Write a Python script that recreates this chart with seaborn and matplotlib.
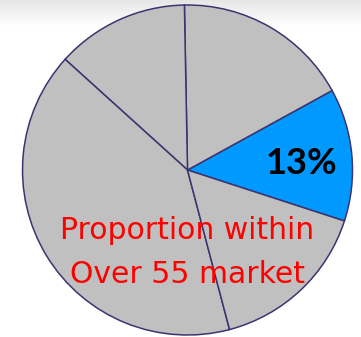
import numpy as np
import matplotlib
matplotlib.use("Agg")
import matplotlib.pyplot as plt
import seaborn as sns

sns.set_style("white")
plt.rcParams['font.family'] = ['Lato', 'DejaVu Sans']

# Data (percent shares, counter-clockwise from the blue slice)
segments = ["Over 55", "Seg B", "Seg C", "Seg D", "Seg E"]
shares = [13, 17.3, 13, 40.8, 15.9]
colors = ["#0099FF", "#C0C0C0", "#C0C0C0", "#C0C0C0", "#C0C0C0"]
highlight_label = "13%"
caption_lines = ["Proportion within", "Over 55 market"]

fig = plt.figure(figsize=(3.61, 3.37), dpi=100)

# subtle top gradient background
bg = fig.add_axes([0, 0, 1, 1])
grad = np.linspace(0, 1, 337)[:, None]
grad = np.clip(grad / 0.08, 0, 1)
vals = 0.90 + 0.10 * grad
bg.imshow(np.repeat(vals, 2, axis=1), cmap="gray", vmin=0, vmax=1,
          aspect="auto", extent=[0, 1, 0, 1], origin="upper")
bg.axis("off")

ax = fig.add_axes([0, 0, 1, 1])
ax.patch.set_alpha(0)
ax.pie(shares, colors=colors, startangle=-18, counterclock=True,
       wedgeprops=dict(edgecolor="#3C3470", linewidth=1.1))
r = 165.0
cx, cy = 187.5, 170.0
ax.set_xlim(-cx / r, (361 - cx) / r)
ax.set_ylim(-(337 - cy) / r, cy / r)
ax.set_aspect("auto")
ax.axis("off")

ax.text((301 - cx) / r, (cy - 163) / r, highlight_label, ha="center", va="center",
        fontsize=26, fontweight="bold", color="black")
for line, base_y in zip(caption_lines, [239, 283]):
    ax.text((187 - cx) / r, (cy - base_y) / r, line, ha="center", va="baseline",
            fontsize=21.5, color="#FF0000", family=["DejaVu Sans"])

fig.savefig("out.png", dpi=100)
